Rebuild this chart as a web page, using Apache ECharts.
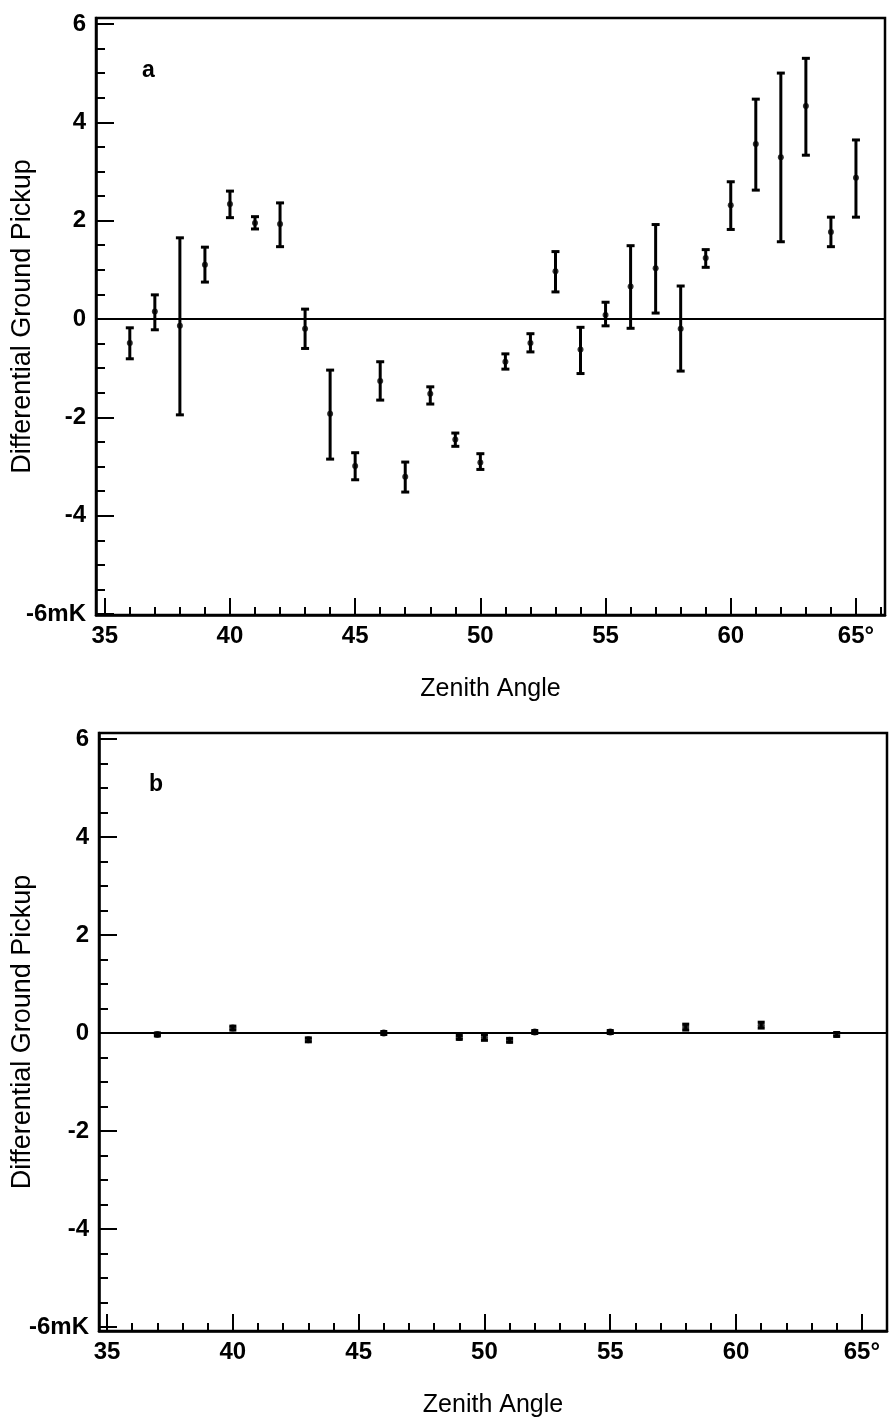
<!DOCTYPE html>
<html><head><meta charset="utf-8">
<script src="https://cdn.jsdelivr.net/npm/echarts@6/dist/echarts.min.js"></script>
<style>html,body{margin:0;padding:0;background:#fff}#c{width:892px;height:1421px}</style>
</head><body><div id="c"></div>
<script>
// Panel a data
const anglesA = [36,37,38,39,40,41,42,43,44,45,46,47,48,49,50,51,52,53,54,55,56,57,58,59,60,61,62,63,64,65];
const valuesA = [-0.49,0.15,-0.14,1.10,2.34,1.95,1.93,-0.20,-1.93,-2.99,-1.26,-3.21,-1.52,-2.45,-2.92,-0.87,-0.49,0.97,-0.62,0.08,0.66,1.03,-0.20,1.24,2.31,3.56,3.29,4.33,1.77,2.87];
const lowA    = [-0.81,-0.22,-1.95,0.75,2.06,1.83,1.47,-0.60,-2.85,-3.27,-1.65,-3.52,-1.73,-2.59,-3.06,-1.02,-0.67,0.55,-1.11,-0.14,-0.19,0.12,-1.06,1.05,1.82,2.62,1.57,3.33,1.47,2.07];
const highA   = [-0.18,0.49,1.65,1.46,2.60,2.08,2.36,0.20,-1.04,-2.72,-0.87,-2.91,-1.38,-2.32,-2.74,-0.71,-0.30,1.37,-0.17,0.34,1.49,1.92,0.67,1.41,2.79,4.47,5.00,5.30,2.07,3.64];
// Panel b data
const anglesB = [37,40,43,46,49,50,51,52,55,58,61,64];
const valuesB = [-0.03,0.10,-0.14,0.00,-0.09,-0.09,-0.15,0.02,0.02,0.12,0.16,-0.03];
const lowB    = [-0.06,0.06,-0.18,-0.03,-0.13,-0.15,-0.19,-0.01,-0.01,0.06,0.10,-0.07];
const highB   = [0.00,0.14,-0.10,0.03,-0.05,-0.03,-0.11,0.05,0.05,0.18,0.22,0.01];
// Ticks
const xMajorTicks = [35,40,45,50,55,60,65];
const yMajorTicks = [-6,-4,-2,0,2,4,6];

const xMinorTicks = []; for (let v = 35; v <= 66; v++) xMinorTicks.push(v);
const yMinorTicks = []; for (let v = -12; v <= 12; v++) yMinorTicks.push(v / 2);

const FONT = 'Liberation Sans';
const BLACK = '#000';

function xMajor(grid, min, max, gap) {
  return {
    type: 'value', gridIndex: grid, min: min, max: max, position: 'bottom',
    name: 'Zenith Angle', nameLocation: 'middle', nameGap: gap, nameMoveOverlap: false,
    nameTextStyle: {fontFamily: FONT, fontSize: 25, color: BLACK},
    axisLine: {show: true, onZero: false, lineStyle: {color: BLACK, width: 2.5}},
    axisTick: {show: true, inside: true, length: 17, customValues: xMajorTicks, lineStyle: {color: BLACK, width: 2}},
    axisLabel: {show: true, customValues: xMajorTicks, margin: 9, fontFamily: FONT, fontSize: 24, fontWeight: 'bold', color: BLACK,
      formatter: v => (v === 65 ? '65°' : String(v))},
    splitLine: {show: false}
  };
}
function xMinor(grid, min, max) {
  return {
    type: 'value', gridIndex: grid, min: min, max: max, position: 'bottom',
    axisLine: {show: false, onZero: false},
    axisTick: {show: true, inside: true, length: 8, customValues: xMinorTicks.filter(v => v <= max), lineStyle: {color: BLACK, width: 2}},
    axisLabel: {show: false}, splitLine: {show: false}
  };
}
function yMajor(grid, min, max, gap) {
  return {
    type: 'value', gridIndex: grid, min: min, max: max, position: 'left',
    name: 'Differential Ground Pickup', nameLocation: 'middle', nameGap: gap, nameRotate: 90, nameMoveOverlap: false,
    nameTextStyle: {fontFamily: FONT, fontSize: 27, color: BLACK},
    axisLine: {show: true, onZero: false, lineStyle: {color: BLACK, width: 2.5}},
    axisTick: {show: true, inside: true, length: 18, customValues: yMajorTicks, lineStyle: {color: BLACK, width: 2}},
    axisLabel: {show: true, customValues: yMajorTicks, margin: 10, fontFamily: FONT, fontSize: 24, fontWeight: 'bold', color: BLACK,
      formatter: v => (v === -6 ? '-6mK' : String(v))},
    splitLine: {show: false}
  };
}
function yMinor(grid, min, max) {
  return {
    type: 'value', gridIndex: grid, min: min, max: max, position: 'left',
    axisLine: {show: false, onZero: false},
    axisTick: {show: true, inside: true, length: 9, customValues: yMinorTicks, lineStyle: {color: BLACK, width: 2}},
    axisLabel: {show: false}, splitLine: {show: false}
  };
}

function errRender(cap, lw) {
  return function (params, api) {
    const x = api.value(0), lo = api.value(1), hi = api.value(2);
    const p1 = api.coord([x, lo]), p2 = api.coord([x, hi]);
    const style = {stroke: BLACK, lineWidth: lw};
    return {type: 'group', children: [
      {type: 'line', shape: {x1: p1[0], y1: p1[1], x2: p2[0], y2: p2[1]}, style: style},
      {type: 'line', shape: {x1: p1[0] - cap, y1: p1[1], x2: p1[0] + cap, y2: p1[1]}, style: style},
      {type: 'line', shape: {x1: p2[0] - cap, y1: p2[1], x2: p2[0] + cap, y2: p2[1]}, style: style}
    ]};
  };
}

const zeroLine = {
  silent: true, symbol: 'none', label: {show: false},
  lineStyle: {color: BLACK, width: 2.2, type: 'solid'},
  data: [{yAxis: 0}]
};

const option = {
  animation: false,
  backgroundColor: '#fff',
  title: [
    {text: 'a', left: 137, top: 54, textStyle: {fontFamily: FONT, fontSize: 23, fontWeight: 'bold', color: BLACK}},
    {text: 'b', left: 144, top: 768, textStyle: {fontFamily: FONT, fontSize: 23, fontWeight: 'bold', color: BLACK}}
  ],
  grid: [
    {left: 96, top: 18, width: 789, height: 597, outerBoundsMode: 'none', containLabel: false,
      show: true, borderColor: BLACK, borderWidth: 2.5, backgroundColor: 'transparent'},
    {left: 99, top: 733, width: 788, height: 598, outerBoundsMode: 'none', containLabel: false,
      show: true, borderColor: BLACK, borderWidth: 2.5, backgroundColor: 'transparent'}
  ],
  xAxis: [
    xMajor(0, 34.65, 66.16, 62), xMinor(0, 34.65, 66.16),
    xMajor(1, 34.68, 66.0, 62), xMinor(1, 34.68, 66.0)
  ],
  yAxis: [
    yMajor(0, -6.02, 6.12, 60), yMinor(0, -6.02, 6.12),
    yMajor(1, -6.08, 6.12, 63), yMinor(1, -6.08, 6.12)
  ],
  series: [
    {type: 'custom', xAxisIndex: 0, yAxisIndex: 0, clip: false,
      renderItem: errRender(4, 3), encode: {x: 0, y: [1, 2]},
      data: anglesA.map((a, i) => [a, lowA[i], highA[i]])},
    {type: 'scatter', xAxisIndex: 0, yAxisIndex: 0, symbol: 'circle', symbolSize: 6,
      itemStyle: {color: BLACK}, data: anglesA.map((a, i) => [a, valuesA[i]]), markLine: zeroLine},
    {type: 'custom', xAxisIndex: 2, yAxisIndex: 2, clip: false,
      renderItem: errRender(3.5, 3), encode: {x: 0, y: [1, 2]},
      data: anglesB.map((a, i) => [a, lowB[i], highB[i]])},
    {type: 'scatter', xAxisIndex: 2, yAxisIndex: 2, symbol: 'circle', symbolSize: 7,
      itemStyle: {color: BLACK}, data: anglesB.map((a, i) => [a, valuesB[i]]), markLine: zeroLine}
  ]
};

const chart = echarts.init(document.getElementById('c'), null, {renderer: 'canvas'});
chart.setOption(option);
</script>
</body></html>
